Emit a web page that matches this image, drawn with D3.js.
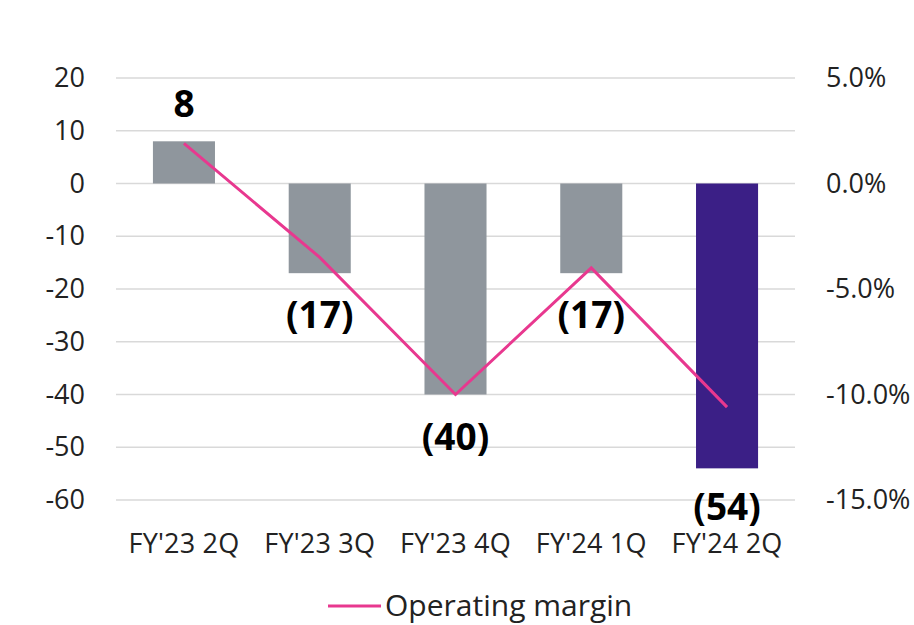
<!DOCTYPE html>
<html>
<head>
<meta charset="utf-8">
<script src="https://cdn.jsdelivr.net/npm/d3@7"></script>
<style>
  body { margin: 0; background: #fff; }
  text { font-family: "Open Sans", "Noto Sans", sans-serif; }
</style>
</head>
<body>
<div id="chart"></div>
<script>
const WIDTH = 914
const HEIGHT = 625

// donnees
const quarters = ["FY'23 2Q", "FY'23 3Q", "FY'23 4Q", "FY'24 1Q", "FY'24 2Q"];
const profit = [8, -17, -40, -17, -54];
const margin = [1.9, -3.5, -10.0, -4.0, -10.6];
const leftTicks = [20, 10, 0, -10, -20, -30, -40, -50, -60];
const rightTicks = [5, 0, -5, -10, -15];

const svg = d3.select("#chart")
    .append("svg")
    .attr("width", WIDTH)
    .attr("height", HEIGHT);

const x = d3.scaleBand()
    .domain(quarters)
    .range([116, 795])
    .paddingInner(0.543)
    .paddingOuter(0.272);

const y = d3.scaleLinear().domain([-60, 20]).range([500, 78]);
const y2 = d3.scaleLinear().domain([-15, 5]).range([500, 78]);

// gridlines
svg.append("g")
    .selectAll("line")
    .data(leftTicks)
    .enter()
    .append("line")
    .attr("x1", 116)
    .attr("x2", 795)
    .attr("y1", d => y(d))
    .attr("y2", d => y(d))
    .attr("stroke", "#d9d9d9")
    .attr("stroke-width", 1.5);

// axe gauche
const leftAxis = svg.append("g")
    .attr("transform", "translate(91,0)")
    .call(d3.axisLeft(y).tickValues(leftTicks).tickSize(0).tickPadding(6)
        .tickFormat(d => String(d)));
leftAxis.select(".domain").remove();
leftAxis.selectAll("text")
    .attr("font-size", 27)
    .attr("fill", "#222")
    .style("font-family", "'Open Sans', sans-serif");

// axe droite
const rightAxis = svg.append("g")
    .attr("transform", "translate(820,0)")
    .call(d3.axisRight(y2).tickValues(rightTicks).tickSize(0).tickPadding(6)
        .tickFormat(d => d.toFixed(1) + "%"));
rightAxis.select(".domain").remove();
rightAxis.selectAll("text")
    .attr("font-size", 27)
    .attr("fill", "#222")
    .style("font-family", "'Open Sans', sans-serif");

// axe x
const bottomAxis = svg.append("g")
    .attr("transform", "translate(0,528)")
    .call(d3.axisBottom(x).tickSize(0).tickPadding(6));
bottomAxis.select(".domain").remove();
bottomAxis.selectAll("text")
    .attr("font-size", 27)
    .attr("letter-spacing", 0.2)
    .attr("fill", "#222")
    .style("font-family", "'Open Sans', sans-serif");

// barres
svg.append("g")
    .selectAll("rect")
    .data(profit)
    .enter()
    .append("rect")
    .attr("x", (d, i) => x(quarters[i]))
    .attr("y", d => y(Math.max(d, 0)))
    .attr("width", x.bandwidth())
    .attr("height", d => Math.abs(y(d) - y(0)))
    .attr("fill", (d, i) => i === profit.length - 1 ? "#3b1f86" : "#8f969d");

// ligne de marge
const line = d3.line()
    .x((d, i) => x(quarters[i]) + x.bandwidth() / 2)
    .y(d => y2(d));

svg.append("path")
    .datum(margin)
    .attr("d", line)
    .attr("fill", "none")
    .attr("stroke", "#e8388f")
    .attr("stroke-width", 3);

// etiquettes
svg.append("g")
    .selectAll("text")
    .data(profit)
    .enter()
    .append("text")
    .attr("x", (d, i) => x(quarters[i]) + x.bandwidth() / 2)
    .attr("y", (d, i) => d >= 0 ? y(d) - 24 : y(d) + (i === profit.length - 1 ? 52 : 55))
    .attr("text-anchor", "middle")
    .attr("font-size", 37)
    .attr("font-weight", "bold")
    .attr("fill", "#000")
    .text(d => d >= 0 ? d : "(" + Math.abs(d) + ")");

// legende
const legend = svg.append("g");
legend.append("line")
    .attr("x1", 328)
    .attr("x2", 381)
    .attr("y1", 606)
    .attr("y2", 606)
    .attr("stroke", "#e8388f")
    .attr("stroke-width", 3);
legend.append("text")
    .attr("x", 385)
    .attr("y", 616)
    .attr("font-size", 30)
    .attr("fill", "#222")
    .text("Operating margin");
</script>
</body>
</html>
